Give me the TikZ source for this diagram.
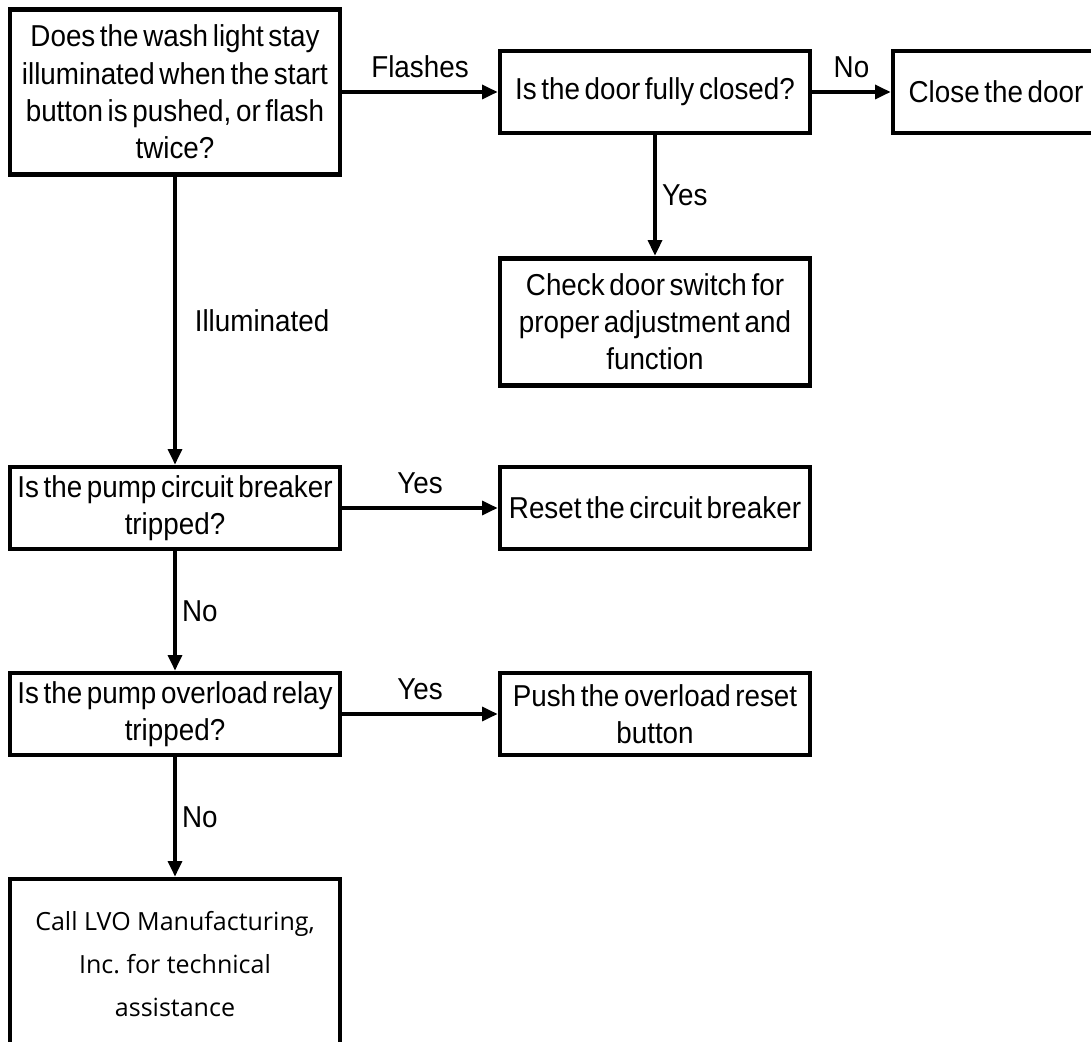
\documentclass[tikz,border=0pt]{standalone}
\usepackage{fontspec}
\setmainfont{Liberation Sans}[FakeStretch=0.92,WordSpace=0.6]
\newfontfamily\callfont{Open Sans}
\usetikzlibrary{arrows.meta}
\frenchspacing

\begin{document}
\begin{tikzpicture}[
    box/.style={rectangle, draw=black, line width=3.5pt, align=center, font=\fontsize{21.5}{26.5}\selectfont, inner sep=2pt},
    leftbox/.style={box, minimum width=8.25cm, minimum height=2.05cm},
    rightbox/.style={box, minimum width=7.75cm, minimum height=2.05cm},
    bus/.style={-{Triangle[length=11pt,width=10pt]}, line width=2.2pt},
    labelnode/.style={font=\fontsize{21.5}{26.5}\selectfont, inner sep=2pt}
]
\useasboundingbox (0,0) rectangle (27.275,-26.05);

% Left column (questions, x = 4.375)
\node[leftbox, minimum height=4.125cm] (wash)    at (4.375,-2.3)   {Does the wash light stay\\illuminated when the start\\button is pushed, or flash\\twice?};
\node[leftbox]                         (breaker) at (4.375,-12.7)  {Is the pump circuit breaker\\tripped?};
\node[leftbox]                         (relay)   at (4.375,-17.85) {Is the pump overload relay\\tripped?};
\node[leftbox, minimum height=4.25cm, font=\callfont\fontsize{17.8}{30.5}\selectfont] (call) at (4.375,-24.1) {Call LVO Manufacturing,\\Inc. for technical\\assistance};

% Right column (actions, x = 16.375)
\node[rightbox]                        (door)    at (16.375,-2.3)   {Is the door fully closed?};
\node[rightbox, minimum height=3.175cm] (switch) at (16.375,-8.04)  {Check door switch for\\proper adjustment and\\function};
\node[rightbox]                        (reset)   at (16.375,-12.7)  {Reset the circuit breaker};
\node[rightbox]                        (push)    at (16.375,-17.85) {Push the overload reset\\button};

% Far right
\node[box, minimum width=5.15cm, minimum height=2.05cm] (close) at (24.9,-2.3) {Close the door};

% Connectors
\draw[bus] (wash.east)    -- node[labelnode, above=7pt] {Flashes} (door.west);
\draw[bus] (door.east)    -- node[labelnode, above=7pt] {No} (close.west);
\draw[bus] (door.south)   -- node[labelnode, right=2pt] {Yes} (switch.north);
\draw[bus] (wash.south)   -- node[labelnode, right=11pt] {Illuminated} (breaker.north);
\draw[bus] (breaker.east) -- node[labelnode, above=7pt] {Yes} (reset.west);
\draw[bus] (breaker.south) -- node[labelnode, right=2pt] {No} (relay.north);
\draw[bus] (relay.east)   -- node[labelnode, above=7pt] {Yes} (push.west);
\draw[bus] (relay.south)  -- node[labelnode, right=2pt] {No} (call.north);

\end{tikzpicture}
\end{document}
